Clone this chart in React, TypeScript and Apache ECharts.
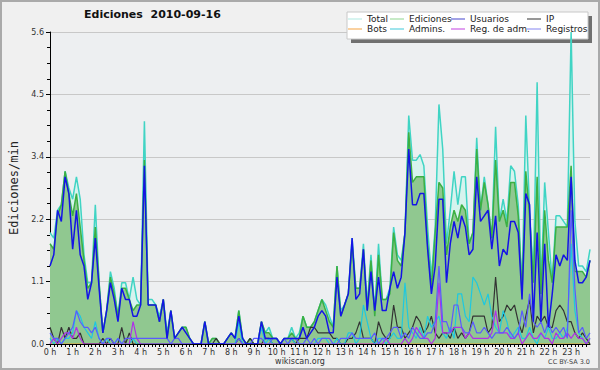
import React, { useEffect, useRef } from "react";
import * as echarts from "echarts";

// 10-minute slots, 6 per hour, 144 per day (rows = hours)
const hourLabels = [
  "0 h", "1 h", "2 h", "3 h", "4 h", "5 h", "6 h", "7 h", "8 h", "9 h", "10 h", "11 h",
  "12 h", "13 h", "14 h", "15 h", "16 h", "17 h", "18 h", "19 h", "20 h", "21 h", "22 h", "23 h",
];

const total = [
  2.0, 1.9, 2.4, 2.5, 3.1, 2.8,
  2.6, 3.0, 2.6, 1.6, 1.1, 1.1,
  2.5, 1.1, 0.2, 0.6, 1.3, 1.0,
  0.5, 1.1, 1.1, 0.8, 1.2, 0.8,
  0.7, 4.0, 0.8, 0.8, 0.7, 0.5,
  0.8, 0.2, 0.6, 0.1, 0.2, 0.3,
  0.3, 0.1, 0.0, 0.0, 0.0, 0.4,
  0.0, 0.1, 0.1, 0.0, 0.0, 0.1,
  0.2, 0.1, 0.6, 0.1, 0.0, 0.1,
  0.0, 0.0, 0.4, 0.2, 0.3, 0.1,
  0.1, 0.0, 0.1, 0.1, 0.3, 0.1,
  0.2, 0.5, 0.3, 0.3, 0.4, 0.6,
  0.8, 0.7, 0.5, 0.3, 1.4, 0.6,
  0.7, 0.9, 1.9, 1.0, 1.0, 1.8,
  0.7, 1.6, 0.6, 1.8, 0.8, 0.8,
  1.0, 2.1, 1.6, 1.5, 2.0, 4.1,
  3.3, 3.3, 3.4, 3.2, 2.1, 1.2,
  2.1, 4.3, 3.5, 1.8, 2.4, 3.1,
  2.5, 3.0, 3.0, 1.8, 2.0, 3.7,
  2.4, 3.0, 2.5, 1.9, 3.9, 2.2,
  2.6, 2.2, 3.2, 3.1, 2.5, 1.0,
  4.1, 2.4, 1.2, 4.7, 1.0, 2.9,
  2.0, 1.1, 2.3, 2.3, 2.2, 2.1,
  5.6, 2.2, 1.4, 1.4, 1.3, 1.7,
];

const ediciones = [
  1.8, 1.7, 2.3, 2.5, 3.1, 2.7,
  2.3, 2.7, 2.1, 1.5, 1.0, 1.1,
  2.1, 1.1, 0.2, 0.6, 1.2, 0.9,
  0.5, 1.0, 1.0, 0.8, 0.6, 0.7,
  0.7, 3.3, 0.7, 0.7, 0.7, 0.4,
  0.8, 0.1, 0.6, 0.1, 0.2, 0.3,
  0.3, 0.1, 0.0, 0.0, 0.0, 0.4,
  0.0, 0.1, 0.1, 0.0, 0.0, 0.1,
  0.2, 0.1, 0.6, 0.1, 0.0, 0.1,
  0.0, 0.0, 0.4, 0.2, 0.2, 0.1,
  0.1, 0.0, 0.1, 0.1, 0.2, 0.1,
  0.1, 0.5, 0.3, 0.3, 0.4, 0.6,
  0.8, 0.6, 0.4, 0.3, 1.4, 0.5,
  0.7, 0.9, 1.8, 1.0, 1.0, 1.7,
  0.6, 1.5, 0.5, 1.6, 0.8, 0.8,
  0.9, 2.0, 1.5, 1.4, 2.0, 3.8,
  2.9, 3.0, 3.0, 3.0, 1.8, 1.0,
  2.0, 2.9, 2.8, 1.6, 2.1, 2.4,
  2.2, 2.5, 2.4, 1.8, 2.0, 3.5,
  2.4, 2.9, 2.5, 1.9, 3.3, 2.2,
  2.4, 2.1, 2.9, 2.9, 2.3, 0.9,
  3.1, 2.3, 1.1, 3.0, 0.9, 2.4,
  1.5, 1.1, 2.1, 2.1, 2.1, 2.1,
  3.2, 1.3, 1.3, 1.3, 1.2, 1.5,
];

const usuarios = [
  1.4, 1.6, 2.4, 2.2, 3.0, 2.7,
  1.7, 2.4, 1.6, 1.4, 0.8, 1.1,
  1.9, 1.0, 0.2, 0.6, 1.1, 0.8,
  0.4, 1.0, 0.8, 0.8, 0.5, 0.5,
  0.7, 3.2, 0.7, 0.7, 0.7, 0.4,
  0.8, 0.1, 0.6, 0.1, 0.2, 0.3,
  0.2, 0.1, 0.0, 0.0, 0.0, 0.4,
  0.0, 0.0, 0.0, 0.0, 0.0, 0.1,
  0.2, 0.1, 0.5, 0.1, 0.0, 0.0,
  0.0, 0.0, 0.4, 0.1, 0.1, 0.1,
  0.1, 0.0, 0.1, 0.1, 0.1, 0.1,
  0.1, 0.3, 0.1, 0.2, 0.3, 0.5,
  0.6, 0.5, 0.2, 0.2, 1.2, 0.5,
  0.7, 0.9, 1.9, 0.8, 0.9, 1.7,
  0.6, 1.3, 0.6, 1.2, 0.6, 0.6,
  1.0, 1.3, 1.0, 1.2, 2.0, 3.5,
  2.5, 2.5, 2.7, 2.7, 1.7, 0.9,
  1.4, 2.6, 2.6, 1.1, 1.8, 2.2,
  1.9, 2.3, 2.1, 1.6, 1.7, 3.0,
  2.2, 2.3, 2.4, 1.7, 2.3, 1.4,
  1.7, 1.6, 2.2, 2.2, 2.0, 0.8,
  2.7, 2.5, 0.4, 2.0, 0.4, 1.8,
  0.3, 0.9, 1.6, 1.4, 1.6, 1.5,
  3.0, 1.5, 1.1, 1.1, 1.2, 1.5,
];

const ip = [
  0.3, 0.1, 0.0, 0.3, 0.1, 0.3,
  0.1, 0.1, 0.2, 0.0, 0.0, 0.0,
  0.0, 0.0, 0.1, 0.0, 0.1, 0.0,
  0.0, 0.3, 0.0, 0.2, 0.0, 0.0,
  0.0, 0.0, 0.0, 0.0, 0.0, 0.0,
  0.0, 0.0, 0.0, 0.0, 0.0, 0.0,
  0.0, 0.0, 0.0, 0.0, 0.0, 0.0,
  0.0, 0.0, 0.1, 0.0, 0.0, 0.0,
  0.0, 0.0, 0.1, 0.0, 0.0, 0.1,
  0.0, 0.0, 0.0, 0.1, 0.1, 0.0,
  0.0, 0.0, 0.0, 0.0, 0.1, 0.0,
  0.1, 0.1, 0.1, 0.3, 0.3, 0.2,
  0.2, 0.2, 0.2, 0.1, 0.1, 0.0,
  0.0, 0.1, 0.1, 0.2, 0.4, 0.1,
  0.1, 0.1, 0.0, 0.4, 0.2, 0.1,
  0.1, 0.7, 0.3, 0.3, 0.1, 0.2,
  0.3, 0.5, 0.4, 0.2, 0.3, 0.5,
  0.2, 0.1, 0.2, 0.2, 0.1, 0.3,
  0.1, 0.2, 0.1, 0.2, 0.5, 0.5,
  0.5, 0.5, 0.2, 0.3, 1.2, 0.4,
  0.5, 0.7, 0.6, 0.7, 0.4, 0.2,
  0.5, 0.8, 0.2, 0.5, 0.4, 0.5,
  0.3, 0.3, 0.6, 0.7, 0.6, 0.4,
  0.4, 0.2, 0.1, 0.2, 0.1, 0.0,
];

const admins = [
  0.1, 0.0, 0.1, 0.0, 0.1, 0.1,
  0.2, 0.6, 0.5, 0.3, 0.2, 0.1,
  0.4, 0.1, 0.0, 0.1, 0.0, 0.0,
  0.1, 0.0, 0.0, 0.0, 0.1, 0.0,
  0.0, 0.0, 0.0, 0.0, 0.0, 0.0,
  0.0, 0.0, 0.0, 0.0, 0.0, 0.0,
  0.0, 0.0, 0.0, 0.0, 0.0, 0.0,
  0.0, 0.0, 0.0, 0.0, 0.0, 0.0,
  0.0, 0.0, 0.4, 0.0, 0.0, 0.0,
  0.0, 0.0, 0.3, 0.0, 0.1, 0.0,
  0.0, 0.0, 0.0, 0.0, 0.1, 0.0,
  0.0, 0.0, 0.0, 0.0, 0.0, 0.1,
  0.1, 0.1, 0.0, 0.0, 0.1, 0.0,
  0.0, 0.2, 0.2, 0.0, 0.1, 0.7,
  0.4, 0.1, 0.0, 0.1, 0.1, 0.0,
  0.1, 0.2, 0.1, 0.1, 1.1, 0.3,
  0.2, 0.1, 0.3, 0.1, 0.5, 0.3,
  0.4, 0.5, 0.2, 0.1, 0.3, 0.1,
  0.9, 0.9, 0.5, 0.4, 1.2, 1.1,
  0.9, 0.7, 0.9, 0.5, 0.3, 0.2,
  0.6, 0.4, 0.1, 0.2, 0.3, 0.1,
  0.1, 0.3, 0.1, 0.0, 0.2, 0.1,
  0.3, 0.1, 0.1, 0.2, 0.1, 0.3,
  1.8, 0.6, 0.2, 0.1, 0.0, 0.1,
];

const regAdm = [
  0.0, 0.1, 0.0, 0.1, 0.2, 0.2,
  0.1, 0.3, 0.1, 0.0, 0.0, 0.0,
  0.0, 0.0, 0.0, 0.0, 0.0, 0.0,
  0.0, 0.0, 0.0, 0.0, 0.4, 0.1,
  0.0, 0.0, 0.0, 0.0, 0.0, 0.0,
  0.0, 0.0, 0.0, 0.0, 0.0, 0.0,
  0.0, 0.0, 0.0, 0.0, 0.0, 0.0,
  0.0, 0.0, 0.0, 0.0, 0.0, 0.0,
  0.0, 0.0, 0.0, 0.0, 0.0, 0.0,
  0.0, 0.0, 0.0, 0.0, 0.0, 0.0,
  0.0, 0.0, 0.0, 0.0, 0.0, 0.0,
  0.0, 0.0, 0.0, 0.0, 0.0, 0.0,
  0.0, 0.0, 0.0, 0.0, 0.0, 0.0,
  0.0, 0.0, 0.0, 0.0, 0.0, 0.0,
  0.0, 0.0, 0.0, 0.0, 0.0, 0.1,
  0.0, 0.0, 0.0, 0.0, 0.1, 0.0,
  0.1, 0.3, 0.2, 0.1, 0.1, 0.0,
  0.1, 1.1, 0.2, 0.2, 0.2, 0.3,
  0.3, 0.3, 0.1, 0.2, 0.1, 0.1,
  0.1, 0.1, 0.1, 0.2, 0.6, 0.2,
  0.2, 0.2, 0.1, 0.1, 0.2, 0.0,
  0.1, 0.2, 0.1, 0.1, 0.2, 0.1,
  0.1, 0.0, 0.2, 0.1, 0.1, 0.2,
  0.1, 0.2, 0.1, 0.1, 0.0, 0.1,
];

const registros = [
  0.2, 0.1, 0.1, 0.0, 0.1, 0.2,
  0.3, 0.6, 0.4, 0.3, 0.3, 0.2,
  0.3, 0.1, 0.0, 0.1, 0.1, 0.0,
  0.1, 0.0, 0.1, 0.1, 0.1, 0.1,
  0.1, 0.1, 0.1, 0.1, 0.1, 0.1,
  0.1, 0.1, 0.0, 0.1, 0.1, 0.0,
  0.0, 0.0, 0.0, 0.0, 0.0, 0.0,
  0.0, 0.0, 0.0, 0.0, 0.0, 0.0,
  0.0, 0.0, 0.1, 0.0, 0.0, 0.0,
  0.1, 0.1, 0.1, 0.0, 0.0, 0.1,
  0.1, 0.0, 0.1, 0.0, 0.1, 0.1,
  0.0, 0.0, 0.1, 0.0, 0.1, 0.0,
  0.1, 0.1, 0.1, 0.0, 0.0, 0.1,
  0.1, 0.1, 0.2, 0.1, 0.1, 0.1,
  0.1, 0.1, 0.2, 0.0, 0.1, 0.1,
  0.2, 0.3, 0.3, 0.1, 0.2, 0.1,
  0.3, 0.2, 0.1, 0.1, 0.2, 0.2,
  0.4, 1.4, 0.4, 0.4, 0.2, 0.7,
  0.7, 0.3, 0.2, 0.2, 0.4, 0.2,
  0.2, 0.3, 0.2, 0.1, 0.2, 0.2,
  0.2, 0.3, 0.2, 0.1, 0.2, 0.6,
  0.3, 0.9, 0.4, 0.3, 0.4, 0.2,
  0.4, 0.2, 0.3, 0.2, 0.3, 0.1,
  2.4, 1.0, 0.2, 0.3, 0.1, 0.2,
];

const bots = [
  0, 0, 0, 0, 0, 0, 0, 0, 0, 0, 0, 0,
  0, 0, 0, 0, 0, 0, 0, 0, 0, 0, 0, 0,
  0, 0, 0, 0, 0, 0, 0, 0, 0, 0, 0, 0,
  0, 0, 0, 0, 0, 0, 0, 0, 0, 0, 0, 0,
  0, 0, 0, 0, 0, 0, 0, 0, 0, 0, 0, 0,
  0, 0, 0, 0, 0, 0, 0, 0, 0, 0, 0, 0,
  0, 0, 0, 0, 0, 0, 0, 0, 0, 0, 0, 0,
  0, 0, 0, 0, 0, 0, 0, 0, 0, 0, 0, 0,
  0, 0, 0, 0, 0, 0, 0, 0, 0, 0, 0, 0,
  0, 0, 0, 0, 0, 0, 0, 0, 0, 0, 0, 0,
  0, 0, 0, 0, 0, 0, 0, 0, 0, 0, 0, 0,
  0, 0, 0, 0, 0, 0, 0, 0, 0, 0, 0, 0,
];

const legendColumns = [
  ["Total", "Bots"],
  ["Ediciones", "Admins."],
  ["Usuarios", "Reg. de adm."],
  ["IP", "Registros"],
];

const legendColors: Record<string, string> = {
  Total: "#aee9e1",
  Bots: "#f4a240",
  Ediciones: "#8ed48e",
  "Admins.": "#3ec8d8",
  Usuarios: "#4444cc",
  "Reg. de adm.": "#c040e0",
  IP: "#303030",
  Registros: "#8484f0",
};

const FONT = "DejaVu Sans";

export default function App() {
  const ref = useRef<HTMLDivElement>(null);

  useEffect(() => {
    const chart = echarts.init(ref.current!, null, { renderer: "svg" });
    const pairs = (arr: number[]) => arr.map((v, i) => [i, v]);
    const line = (name: string, data: number[], color: string, width: number, area?: string) => ({
      name,
      type: "line",
      data: pairs(data),
      showSymbol: false,
      symbol: "none",
      lineStyle: { color, width },
      itemStyle: { color },
      areaStyle: area ? { color: area, opacity: 1 } : undefined,
      emphasis: { disabled: true },
    });
    const legendLefts = [348, 390, 451, 527];

    chart.setOption({
      animation: false,
      backgroundColor: "#f0f0f0",
      textStyle: { fontFamily: FONT },
      title: {
        text: "Ediciones  2010-09-16",
        left: 84,
        top: 9,
        padding: 0,
        textStyle: { fontFamily: FONT, fontSize: 11, fontWeight: "bold", color: "#111" },
      },
      legend: legendColumns.map((col, k) => ({
        orient: "vertical",
        left: legendLefts[k],
        top: 14,
        padding: 0,
        itemGap: 0,
        itemWidth: 14,
        itemHeight: 1,
        icon: "rect",
        selectedMode: false,
        textStyle: { fontFamily: FONT, fontSize: 9, lineHeight: 10, color: "#222", padding: [0, 0, 0, 0] },
        data: col.map((n) => ({ name: n, icon: "rect", itemStyle: { color: legendColors[n] } })),
      })),
      grid: {
        left: 46,
        right: 10,
        top: 32,
        bottom: 26,
        show: true,
        backgroundColor: "#edeff1",
        borderWidth: 0,
      },
      xAxis: {
        type: "value",
        min: 0,
        max: 143,
        interval: 1,
        z: 10,
        axisLine: { lineStyle: { color: "#000", width: 1 } },
        axisTick: { length: 3, lineStyle: { color: "#000" } },
        axisLabel: {
          formatter: (v: number) => (v % 6 === 0 ? hourLabels[v / 6] : ""),
          fontFamily: FONT,
          fontSize: 8,
          color: "#333",
          margin: 4,
          showMaxLabel: false,
        },
        splitLine: { show: false },
      },
      yAxis: {
        type: "value",
        min: 0,
        max: 5.6,
        interval: 1.12,
        name: "Ediciones/min",
        nameLocation: "middle",
        nameGap: 30,
        nameTextStyle: { fontFamily: "DejaVu Sans Mono", fontSize: 12, color: "#222" },
        axisLine: { show: true, lineStyle: { color: "#000" } },
        axisTick: { show: true, length: 4, lineStyle: { color: "#000" } },
        minorTick: { show: true, splitNumber: 4, length: 3, lineStyle: { color: "#000" } },
        axisLabel: {
          formatter: (v: number) => v.toFixed(1),
          fontFamily: FONT,
          fontSize: 8,
          color: "#333",
          margin: 6,
        },
        splitLine: { lineStyle: { color: "#c8c8c8", width: 1 } },
      },
      series: [
        line("Bots", bots, "#f0a030", 1),
        line("Total", total, "#40d4c4", 1.5, "#d6f3ee"),
        line("Ediciones", ediciones, "#3cb043", 1.5, "#90c890"),
        line("IP", ip, "#333333", 1.2),
        line("Admins.", admins, "#1ec8e0", 1.2),
        line("Reg. de adm.", regAdm, "#b030e8", 1.2),
        line("Registros", registros, "#5a5aff", 1.2),
        line("Usuarios", usuarios, "#1414e6", 1.5),
      ],
      graphic: [
        {
          type: "rect",
          z: 3,
          shape: { x: 351, y: 16, width: 241, height: 27 },
          style: { fill: "#707070" },
        },
        {
          type: "rect",
          z: 3,
          shape: { x: 347, y: 12, width: 241, height: 27 },
          style: { fill: "#ffffff", stroke: "#c8c8c8", lineWidth: 1 },
        },
        {
          type: "text",
          z: 5,
          x: 300,
          y: 361,
          style: { text: "wikiscan.org", fill: "#333", fontFamily: FONT, fontSize: 8, align: "center", verticalAlign: "middle" },
        },
        {
          type: "text",
          z: 5,
          x: 590,
          y: 362,
          style: { text: "CC BY-SA 3.0", fill: "#444", fontFamily: FONT, fontSize: 6.5, align: "right", verticalAlign: "middle" },
        },
        {
          type: "rect",
          z: 20,
          silent: true,
          shape: { x: 1, y: 1, width: 598, height: 368 },
          style: { fill: "none", stroke: "#aaaaaa", lineWidth: 2 },
        },
      ],
    });
    return () => chart.dispose();
  }, []);

  return <div ref={ref} style={{ position: "fixed", left: 0, top: 0, width: 600, height: 370 }} />;
}
